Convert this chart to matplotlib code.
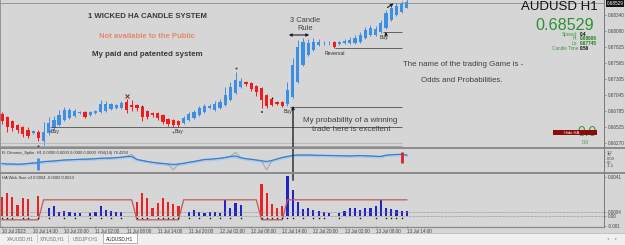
"""plot.py -- MT4 style AUDUSD H1 screenshot: Heiken Ashi candles + two indicator panes."""
import numpy as np
import matplotlib
matplotlib.use("Agg")
import matplotlib.pyplot as plt
from matplotlib.patches import Rectangle, FancyArrowPatch
from matplotlib.lines import Line2D
from matplotlib.transforms import blended_transform_factory

plt.rcParams["font.family"] = ["Liberation Sans", "DejaVu Sans"]

# ---- data ----
ha_open = [0.66735, 0.66686, 0.66622, 0.66557, 0.66524, 0.66476, 0.66427, 0.66443, 0.66297, 0.66427,
           0.66508, 0.66557, 0.66638, 0.66670, 0.66703, 0.66751, 0.66767, 0.66719, 0.66751, 0.66767,
           0.66784, 0.66816, 0.66832, 0.66832, 0.66930, 0.66881, 0.66881, 0.66849, 0.66784, 0.66751,
           0.66751, 0.66719, 0.66654, 0.66638, 0.66622, 0.66589, 0.66638, 0.66670, 0.66719, 0.66767,
           0.66832, 0.66800, 0.66832, 0.66881, 0.66962, 0.67075, 0.67173, 0.67254, 0.67238, 0.67189,
           0.67156, 0.67043, 0.66978, 0.66930, 0.66930, 0.66897, 0.67011, 0.67254, 0.67529, 0.67691,
           0.67773, 0.67854, 0.67878, 0.67878, 0.67902, 0.67870, 0.67886, 0.67886, 0.67886, 0.67902,
           0.67967, 0.68016, 0.68016, 0.68064, 0.68129, 0.68259, 0.68340, 0.68388, 0.68461]
ha_close = [0.66622, 0.66524, 0.66508, 0.66476, 0.66411, 0.66379, 0.66460, 0.66346, 0.66443, 0.66589,
            0.66638, 0.66719, 0.66800, 0.66800, 0.66784, 0.66767, 0.66686, 0.66767, 0.66784, 0.66897,
            0.66897, 0.66897, 0.66881, 0.66913, 0.66800, 0.66849, 0.66832, 0.66686, 0.66686, 0.66719,
            0.66670, 0.66605, 0.66573, 0.66557, 0.66557, 0.66670, 0.66735, 0.66767, 0.66832, 0.66865,
            0.66865, 0.66897, 0.66930, 0.67043, 0.67173, 0.67286, 0.67270, 0.67221, 0.67140, 0.67092,
            0.66962, 0.66865, 0.66881, 0.66897, 0.66865, 0.67124, 0.67529, 0.67821, 0.67902, 0.67886,
            0.67902, 0.67902, 0.67894, 0.67894, 0.67821, 0.67902, 0.67918, 0.67935, 0.67967, 0.68016,
            0.68097, 0.68129, 0.68113, 0.68210, 0.68372, 0.68453, 0.68486, 0.68534, 0.68550]
ha_high = [0.66767, 0.66703, 0.66638, 0.66573, 0.66541, 0.66524, 0.66476, 0.66476, 0.66605, 0.66686,
           0.66703, 0.66800, 0.66849, 0.66832, 0.66816, 0.66784, 0.66784, 0.66784, 0.66800, 0.66962,
           0.66946, 0.66913, 0.66897, 0.66946, 0.66978, 0.66962, 0.66897, 0.66865, 0.66800, 0.66767,
           0.66767, 0.66735, 0.66670, 0.66654, 0.66638, 0.66703, 0.66767, 0.66800, 0.66865, 0.66897,
           0.66897, 0.66946, 0.66978, 0.67173, 0.67254, 0.67416, 0.67319, 0.67270, 0.67254, 0.67205,
           0.67173, 0.67059, 0.67011, 0.66946, 0.66946, 0.67254, 0.67643, 0.67935, 0.67967, 0.67951,
           0.67967, 0.67951, 0.67918, 0.67918, 0.67918, 0.67918, 0.67951, 0.67983, 0.68016, 0.68064,
           0.68145, 0.68178, 0.68161, 0.68259, 0.68421, 0.68502, 0.68534, 0.68567, 0.68615]
ha_low = [0.66573, 0.66443, 0.66460, 0.66427, 0.66362, 0.66346, 0.66411, 0.66297, 0.66233, 0.66395,
          0.66476, 0.66541, 0.66622, 0.66654, 0.66686, 0.66735, 0.66670, 0.66703, 0.66735, 0.66751,
          0.66767, 0.66800, 0.66816, 0.66816, 0.66751, 0.66784, 0.66784, 0.66622, 0.66654, 0.66686,
          0.66638, 0.66573, 0.66541, 0.66524, 0.66524, 0.66573, 0.66622, 0.66654, 0.66703, 0.66751,
          0.66816, 0.66784, 0.66816, 0.66865, 0.66946, 0.67059, 0.67156, 0.67189, 0.67108, 0.67027,
          0.66832, 0.66832, 0.66865, 0.66881, 0.66849, 0.66865, 0.66994, 0.67238, 0.67513, 0.67675,
          0.67756, 0.67837, 0.67854, 0.67854, 0.67805, 0.67854, 0.67870, 0.67870, 0.67870, 0.67886,
          0.67951, 0.67999, 0.67999, 0.68048, 0.68113, 0.68243, 0.68324, 0.68372, 0.68453]

price_ticks = [0.68340, 0.68080, 0.67825, 0.67565, 0.67305, 0.67045, 0.66785, 0.66525, 0.66270]
last_price = 0.68529

# horizontal objects drawn on the price chart (price, from bar, to bar)
level_price = [0.68534, 0.68064, 0.67805, 0.66849, 0.66524, 0.66266, 0.66217]
level_from = [-0.4, 73.4, 64.2, 55.5, 9.3, -0.4, -0.4]
level_to = [116.0, 77.1, 77.1, 77.1, 77.1, 77.1, 77.1]
level_color = ["#8c8c8c", "#505050", "#505050", "#505050", "#505050", "#b4b4b4", "#9c9c9c"]

# HA Wick Size v3 histogram
wick = [0.0020, 0.0024, 0.0020, 0.0012, 0.0019, 0.0018, 0, 0.0021, 0, 0.0008,
        0.0010, 0.00045, 0.0005, 0.00045, 0.0003, 0.0003, 0, 0.0003, 0.00045, 0.0010,
        0.0006, 0.0005, 0.00045, 0.00045, 0, 0, 0.0015, 0.0024, 0.0019, 0.0008,
        0.0014, 0.0019, 0.0015, 0.0013, 0.0010, 0, 0.00045, 0.0006, 0.00045, 0.00035,
        0.00045, 0.00045, 0.00035, 0.0017, 0.0008, 0.0014, 0.0012, 0, 0, 0,
        0.0034, 0.0024, 0.0013, 0.0008, 0.0010, 0.0042, 0.0027, 0.0015, 0.0007, 0.0008,
        0.0006, 0.0005, 0.00045, 0.00035, 0, 0.00035, 0.00055, 0.0008, 0.0008, 0.0006,
        0.0008, 0.0008, 0.00105, 0.0017, 0.0008, 0.0007, 0.0006, 0.00055, 0.0005]
trend_start = [0, 8, 26, 35, 50, 55]
trend_level = [-0.0004, 0.0017, -0.0004, 0.0017, -0.0004, 0.0017]
wick_dots = [0, 1, 2, 4, 5, 7, 9, 12, 14, 17, 19, 21, 23, 26, 27, 28, 30, 31, 32, 33, 34,
             36, 38, 40, 42, 44, 46, 50, 51, 52, 53, 54, 55, 56, 58, 60, 61, 62, 65, 69,
             72, 74, 75, 76, 77]
wick_ticks = [0.0041, 0.0004, 0.0, -0.001]
wick_labels = ["0.0041", "0.0004", "0.00", "-0.001"]

# Dinamic_Spike pane (pane units)
spike_line = [9.5, 9, 9, 8.7, 9, 9.5, 10, 10.3, 11.3, 11.7, 12, 12.5, 13, 13.2, 13.4, 13.7,
              13.8, 14, 14.3, 14.7, 14.8, 15, 15.3, 15.8, 16.5, 16.5, 13.5, 12.5, 11.5, 10.7,
              10, 9.5, 9, 8.5, 9, 9.7, 10.7, 11.5, 12.5, 13.5, 13.7, 14.2, 14.7, 15.5, 16.5,
              17, 15.3, 14.3, 13.7, 13, 12.2, 11.5, 12.5, 14, 15.5, 16.5, 17.5, 18, 18, 18,
              17.8, 17.7, 17.6, 17.5, 17.4, 17.3, 17.2, 17, 17.3, 17.4, 17.2, 17, 16.7, 16.5,
              17.8, 18.2, 18.5, 18.7, 18]
gray_idx = [25, 33, 45, 51]
gray_val = [18.7, 3, 20.7, 3]
spike_bar_idx = [7, 77]
spike_bar_lo = [3, 9.7]
spike_bar_hi = [15, 21.3]
spike_bar_col = ["#3d8fe6", "#e0202a"]
spike_ticks = [21, 18, 14.5, 11, 7.5]
spike_labels = ["1.2", "75", "0.00", "50", "-1.2"]

date_labels = ["10 Jul 2023", "10 Jul 14:00", "10 Jul 20:00", "11 Jul 02:00", "11 Jul 08:00",
               "11 Jul 14:00", "11 Jul 20:00", "12 Jul 02:00", "12 Jul 08:00", "12 Jul 14:00",
               "12 Jul 20:00", "13 Jul 02:00", "13 Jul 08:00", "13 Jul 14:00"]
tabs = ["XAUUSD,H1", "XTIUSD,H1", "USDJPY,H1", "AUDUSD,H1"]

W, H = 625, 245
BG = "#d6d6d6"
C_UP, C_DN = "#3d8fe6", "#f01c1c"
C_TXT = "#3a3a3a"
GREEN = "#2f8f2f"


def fx(x):
    return x / W


def fy(y):
    return 1 - y / H


fig = plt.figure(figsize=(W / 100, H / 100), dpi=100, facecolor=BG)


def ftext(x, y, s, **kw):
    kw.setdefault("ha", "center")
    kw.setdefault("va", "center")
    return fig.text(fx(x), fy(y), s, **kw)


def fline(x0, y0, x1, y1, **kw):
    fig.add_artist(Line2D([fx(x0), fx(x1)], [fy(y0), fy(y1)], transform=fig.transFigure, **kw))


def farrow(x0, y0, x1, y1, style="-|>", **kw):
    fig.add_artist(FancyArrowPatch((fx(x0), fy(y0)), (fx(x1), fy(y1)), transform=fig.transFigure,
                                   arrowstyle=style, mutation_scale=4, **kw))


XL = (-0.385, 115.99)
ax = fig.add_axes([0, fy(147), fx(604), 147 / H])
ax1 = fig.add_axes([0, fy(172), fx(604), 23 / H])
ax2 = fig.add_axes([0, fy(226), fx(604), 52 / H])
for a in (ax, ax1, ax2):
    a.set_facecolor(BG)
    a.set_xlim(*XL)
    for s in a.spines.values():
        s.set_visible(False)
    a.tick_params(axis="x", bottom=False, labelbottom=False)
    a.yaxis.tick_right()
    a.tick_params(axis="y", right=True, length=1.5, width=0.4, pad=1.5,
                  labelsize=3.3, labelcolor="#444444", color="#666666")

# ---- price pane ----
idx = np.arange(len(ha_open))
o, c = np.array(ha_open), np.array(ha_close)
col = np.where(c >= o, C_UP, C_DN)
ax.vlines(idx, ha_low, ha_high, colors=col, lw=0.7)
ax.bar(idx, np.maximum(np.abs(c - o), 0.00004), bottom=np.minimum(o, c), width=0.62, color=col, lw=0)
ax.hlines(level_price, level_from, level_to, colors=level_color, lw=0.6)
ax.set_ylim(0.66200, 0.68583)
ax.set_yticks(price_ticks)
ax.set_yticklabels([f"{p:.5f}" for p in price_ticks])
bt = blended_transform_factory(ax.transAxes, ax.transData)
ax.text(1.004, last_price, f"{last_price:.5f}", transform=bt, fontsize=3.3, color="white",
        va="center", ha="left", bbox=dict(boxstyle="square,pad=0.15", fc="#111111", ec="none"))

# signal marks
ax.plot(24, 0.67027, marker="x", ms=2.2, mew=0.7, color="#8b1a1a")
ax.plot(45, 0.67481, marker="o", ms=1.6, color="#8b3a3a", mew=0)
ax.plot(50, 0.66767, marker="s", ms=1.6, color="#5a4ab8", mew=0)
ax.plot([27, 52], [0.66865, 0.66994], "o", ms=1.2, color="#222222", mew=0)
ax.plot([9.3, 33.0], [0.66460, 0.66443], "o", ms=1.4, color="#6a5ac8", mew=0)
ax.plot(7, 0.66216, marker="s", ms=1.4, color="#333355", mew=0)

# ---- Dinamic_Spike pane ----
ax1.set_ylim(1, 24)
ax1.plot(idx, np.array(spike_line) - 0.6, color="#a9c8ea", lw=2.0)
gray = list(spike_line)
for i, v in zip(gray_idx, gray_val):
    gray[i] = v
ax1.plot(idx, gray, color="#9c9c9c", lw=0.6)
ax1.plot(idx, spike_line, color="#2f7fd6", lw=0.8)
ax1.vlines(spike_bar_idx, spike_bar_lo, spike_bar_hi, colors=spike_bar_col, lw=2.0)
ax1.set_yticks(spike_ticks)
ax1.set_yticklabels(spike_labels)
ax1.tick_params(axis="y", labelsize=3.0, pad=1.0, length=1.0)
ax1.text(0.003, 0.93, "\u00d0: Dinamic_Spike, H1 0.0000 0.0000 0.0000 0.0000  RSI(14) 76.4250",
         transform=ax1.transAxes, fontsize=3.0, color="#333333", va="top", ha="left")

# ---- HA Wick Size pane ----
ax2.set_ylim(-0.00105, 0.00441)
bar_col = np.where(c >= o, "#2323c4", "#e82222")
ax2.bar(idx, wick, width=0.42, color=bar_col, lw=0)
trend = np.zeros(len(idx))
for k, s0 in enumerate(trend_start):
    trend[s0:] = trend_level[k]
ax2.plot(idx, trend, color="#c05a5a", lw=0.9)
ax2.axhline(0.0004, color="#808080", lw=0.5, ls=(0, (1, 1)))
ax2.axhline(0.0, color="#808080", lw=0.5, ls=(0, (1, 1)))
ax2.plot(wick_dots, [-0.00021] * len(wick_dots), "s", ms=1.0, color="#111111", mew=0)
ax2.set_yticks(wick_ticks)
ax2.set_yticklabels(wick_labels)
ax2.set_xticks(np.arange(0, len(idx), 6))
ax2.set_xticklabels(date_labels)
ax2.tick_params(axis="x", bottom=True, labelbottom=True, length=1.5, width=0.4, pad=1.0,
                labelsize=3.3, labelcolor="#444444", color="#666666")
for lab in ax2.get_xticklabels():
    lab.set_ha("left")
ax2.text(0.003, 0.97, "HA Wick Size v3 0.0004 -0.0002 0.0013", transform=ax2.transAxes,
         fontsize=3.0, color="#333333", va="top", ha="left")

# ---- frame: separators, right scale line, tab bar ----
fline(0, 148, 625, 148, color="#8a8a8a", lw=1.4)
fline(0, 173, 625, 173, color="#8a8a8a", lw=1.4)
fline(0, 226.5, 604, 226.5, color="#8a8a8a", lw=0.9)
fline(604, 0, 604, 227, color="#7a7a7a", lw=0.7)
fline(0.4, 0, 0.4, 227, color="#8a8a8a", lw=0.6)
fig.add_artist(Rectangle((0, 0), 1, fy(233), transform=fig.transFigure, fc="#f0f0f0", ec="none"))
fline(0, 233, 625, 233, color="#b0b0b0", lw=0.5)
fig.add_artist(Rectangle((fx(103), fy(243)), fx(137) - fx(103), (243 - 233) / H,
                         transform=fig.transFigure, fc="white", ec="#9a9a9a", lw=0.5))
for x in (37, 68):
    fline(x, 235, x, 242, color="#b8b8b8", lw=0.5)
for name, x in zip(tabs, (20, 52, 85, 120)):
    ftext(x, 238.5, name, fontsize=3.4, color="#202020" if name == tabs[-1] else "#707070")
ftext(608, 238.5, "\u25c2", fontsize=3.2, color="#a0a0a0")
ftext(616, 238.5, "\u25b8", fontsize=3.2, color="#a0a0a0")

# ---- chart text objects ----
ftext(147, 17, "1 WICKED HA CANDLE SYSTEM", fontsize=5.6, weight="bold", color=C_TXT)
ftext(147, 37, "Not available to the Public", fontsize=5.6, weight="bold", color="#e28a6c")
ftext(147, 55, "My paid and patented system", fontsize=5.7, weight="bold", color=C_TXT)
ftext(463, 64, "The name of the trading Game is -", fontsize=5.7, color="#404040")
ftext(462, 81, "Odds and Probabilities.", fontsize=5.7, color="#404040")
ftext(350, 121, "My probability of a winning", fontsize=5.8, color="#404040")
ftext(351, 129.5, "trade here is excellent", fontsize=5.8, color="#404040")
ftext(305, 20, "3 Candle", fontsize=5.4, color="#404040")
ftext(305, 28, "Rule", fontsize=5.4, color="#404040")
ftext(335, 53, "Reversal", fontsize=3.7, color="#303030")
ftext(55, 131, "Buy", fontsize=3.7, color="#303030")
ftext(179, 132, "Buy", fontsize=3.7, color="#303030")
ftext(288, 111, "Buy", fontsize=3.7, color="#303030")
ftext(384, 37, "Buy", fontsize=3.7, color="#303030")
farrow(286, 35, 312, 35, style="<|-|>", color="#222222", lw=0.8)
farrow(293, 183, 293, 103, style="-|>", color="#222222", lw=1.0)
farrow(385, 9, 396, 2, color="#222222", lw=0.8)
farrow(386, 39, 386, 29, color="#222222", lw=0.8)

# ---- top-right info ----
ftext(598, 6.5, "AUDUSD H1", fontsize=9.5, color="#111111", ha="right")
ftext(594, 26, "0.68529", fontsize=11.6, color=GREEN, ha="right")
for lab, val, vc, y in [("Spread:", "0.4", "#111111", 34.5), ("Hi:", "0.68606", "#1f7a1f", 39),
                        ("Lo:", "0.67745", "#1f7a1f", 43.5), ("Candle Time", "0:56", "#111111", 48)]:
    ftext(578, y, lab, fontsize=3.3, color="#3c9a3c", ha="right")
    ftext(580, y, val, fontsize=3.3, color=vc, ha="left", weight="bold")
ftext(587, 132, "0.0", fontsize=10, color="#3e9e3e", zorder=3)
fig.add_artist(Rectangle((fx(553), fy(135)), fx(597) - fx(553), 5 / H, transform=fig.transFigure,
                         fc="#8b0c0c", ec="none", zorder=4))
ftext(572, 132.5, "Hide HA", fontsize=3.0, color="white", zorder=5)
ftext(585, 143, "0.0", fontsize=3.6, color="#3e9e3e")

fig.savefig("out.png", dpi=100, facecolor=BG)
